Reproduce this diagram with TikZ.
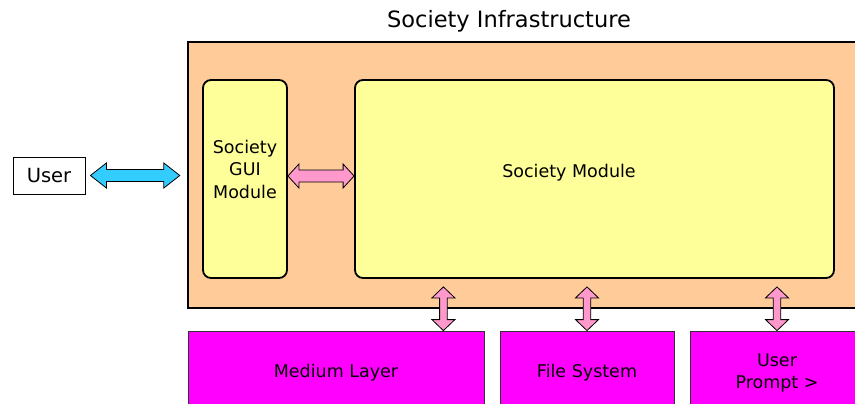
\documentclass[tikz,border=0pt]{standalone}
\usepackage{fontspec}
\setmainfont{DejaVu Sans}
\usetikzlibrary{calc}
\definecolor{infracol}{HTML}{FFCC99}
\definecolor{modcol}{HTML}{FFFF99}
\definecolor{usercol}{HTML}{33CCFF}
\definecolor{linkcol}{HTML}{FF99CC}
\definecolor{layercol}{HTML}{FF00FF}
% #1 from, #2 to, #3 colour, #4 head length, #5 half head, #6 half shaft
\newcommand{\dblarrow}[6]{%
  \draw[fill=#3,line width=0.8pt] (#1)
    -- ($(#1)!#4!(#2)!#5!90:(#2)$) -- ($(#1)!#4!(#2)!#6!90:(#2)$)
    -- ($(#2)!#4!(#1)!#6!-90:(#1)$) -- ($(#2)!#4!(#1)!#5!-90:(#1)$)
    -- (#2)
    -- ($(#2)!#4!(#1)!#5!90:(#1)$) -- ($(#2)!#4!(#1)!#6!90:(#1)$)
    -- ($(#1)!#4!(#2)!#6!-90:(#2)$) -- ($(#1)!#4!(#2)!#5!-90:(#2)$)
    -- cycle;}

\begin{document}
\begin{tikzpicture}[x=1pt,y=-1pt,
  txt/.style={font=\fontsize{17.5}{22.5}\selectfont,align=center},
  infrabox/.style={draw,fill=infracol,line width=2.4pt,inner sep=0pt},
  modbox/.style={draw,fill=modcol,line width=1.8pt,rounded corners=8pt,inner sep=0pt},
  layerbox/.style={draw=black!80,fill=layercol,line width=0.8pt,inner sep=0pt,txt}]
\useasboundingbox (0,0) rectangle (855,404);
\node[font=\fontsize{22.5}{26}\selectfont] (title) at (509,21) {Society Infrastructure};
\node[infrabox,minimum width=700pt,minimum height=266pt] (infra) at (538,175) {};
\node[modbox,minimum width=84pt,minimum height=198pt] (gui) at (245,179) {};
\node[modbox,minimum width=479pt,minimum height=198pt] (society) at (594.5,179) {};
\node[txt] (guitxt) at (245,169) {Society\\GUI\\Module};
\node[txt] (societytxt) at (569,173) {Society Module};
\node[draw,line width=0.8pt,minimum width=72pt,minimum height=37pt,inner sep=0pt,font=\fontsize{19.5}{23}\selectfont] (user) at (49,175.5) {User};
\node[layerbox,minimum width=296pt,minimum height=84pt] (medium) at (336,373) {Medium Layer};
\node[layerbox,minimum width=174pt,minimum height=84pt] (files) at (587,373) {File System};
\node[layerbox,minimum width=174pt,minimum height=84pt] (prompt) at (777,373) {User\\Prompt >};
\coordinate (ua) at ([xshift=5pt]user.east);
\coordinate (iw) at ([xshift=-7pt]infra.west);
\coordinate (ub) at (ua -| iw);
\coordinate (ga) at ([yshift=3pt]gui.east);
\coordinate (gb) at (ga -| society.west);
\coordinate (m2) at ($(medium.north east)+(-41,0)$);
\coordinate (m1) at ($(society.south -| m2)+(0,8)$);
\coordinate (f2) at (files.north);
\coordinate (f1) at ($(society.south -| f2)+(0,8)$);
\coordinate (p2) at (prompt.north);
\coordinate (p1) at ($(society.south -| p2)+(0,8)$);
\dblarrow{ua}{ub}{usercol}{16pt}{12.5pt}{6pt}
\dblarrow{ga}{gb}{linkcol}{11pt}{12pt}{6pt}
\dblarrow{m1}{m2}{linkcol}{11pt}{11.5pt}{3.8pt}
\dblarrow{f1}{f2}{linkcol}{11pt}{11.5pt}{3.8pt}
\dblarrow{p1}{p2}{linkcol}{11pt}{11.5pt}{3.8pt}
\end{tikzpicture}
\end{document}
